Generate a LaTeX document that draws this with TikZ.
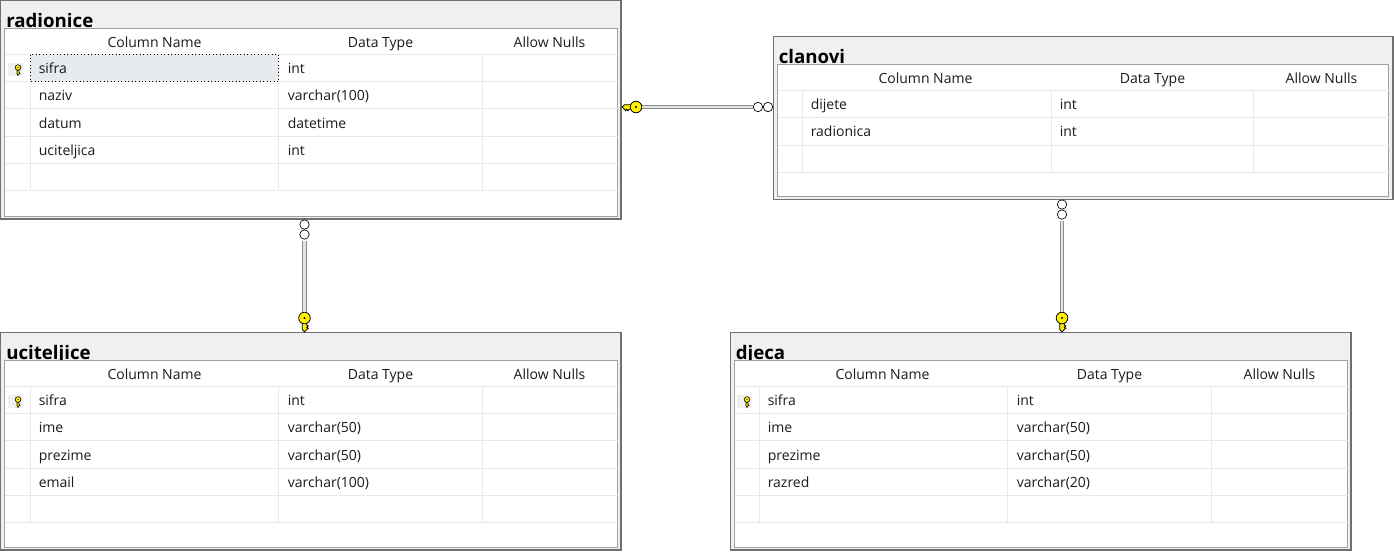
\documentclass[tikz,border=0pt]{standalone}
\usepackage{fontspec}
\setmainfont{Open Sans}
\definecolor{bandgray}{HTML}{F0F0F0}
\definecolor{framegray}{HTML}{707070}
\definecolor{innergray}{HTML}{A0A0A0}
\definecolor{gridgray}{HTML}{E8E8E8}
\definecolor{selblue}{HTML}{E6EBF0}
\definecolor{relgray}{HTML}{8C8C8C}
\definecolor{keyyellow}{HTML}{FFF000}
\definecolor{textdark}{HTML}{1B1B1B}

\begin{document}
\begin{tikzpicture}[x=0.75pt, y=-0.75pt,
  tabframe/.style={draw=framegray, fill=bandgray, line width=1pt},
  tabinner/.style={draw=innergray, fill=white, line width=0.75pt},
  gridline/.style={draw=gridgray, line width=0.75pt},
  tabtitle/.style={anchor=base west, inner sep=0pt, font=\fontsize{14}{16}\selectfont\bfseries},
  colhead/.style={anchor=base, inner sep=0pt, text=textdark, font=\fontsize{10.5}{12}\selectfont},
  cellname/.style={anchor=base west, inner sep=0pt, text=textdark, font=\fontsize{10.5}{12}\selectfont},
  keycell/.style={fill=bandgray},
  selrow/.style={fill=selblue, draw=black, dotted, line width=0.6pt},
  relline/.style={draw=relgray, double=gray!22, double distance=1.6pt, line width=0.8pt},
  keyline/.style={draw=black, fill=keyyellow, line width=0.6pt},
  manyline/.style={draw=black, fill=white, line width=0.5pt},
  bigkey/.pic={
    \draw[keyline] (-2.2,4) -- (-2.2,11.5) -- (0,14) -- (2.2,11.5) -- (3.8,10.3) -- (2.2,9.3)
      -- (3.8,8) -- (2.2,7) -- (2.2,4) -- cycle;
    \draw[keyline] (0,0) circle (5.8);
    \fill (0,0) circle (1.2);
  },
  smallkey/.pic={
    \draw[keyline, line width=0.45pt] (-1,2.5) -- (-1,6.5) -- (0,8) -- (1,6.5) -- (2,5.7)
      -- (1,5) -- (1,2.5) -- cycle;
    \draw[keyline, line width=0.45pt] (0,0) circle (2.8);
    \fill (0,0) circle (0.6);
  },
  manyend/.pic={
    \draw[manyline] (0,0) circle (4.7);
    \draw[manyline] (0,10) circle (4.7);
  }]
\useasboundingbox (0,0) rectangle (1394,551);

\begin{scope}[shift={(0.5,0.5)}]
\draw[tabframe] (0,0) rectangle (620.5,218.5);
\node[tabtitle] (radionice) at (5.5,26.5) {radionice};
\draw[tabinner] (4,28) rectangle (617,215.5);
\foreach \y in {54,81.2,108.4,135.6,162.8,190}
  \draw[gridline] (4,\y) -- (617,\y);
\foreach \x in {30,278,482}
  \draw[gridline] (\x,54) -- (\x,190);
\draw[selrow] (30,54) rectangle (278,81.2);
\fill[keycell] (7,62) rectangle (22,75);
\pic at (17.5,67) {smallkey};
\node[colhead] (radionice-h1) at (154,47) {Column Name};
\node[colhead] (radionice-h2) at (380,47) {Data Type};
\node[colhead] (radionice-h3) at (549,47) {Allow Nulls};
\foreach \n/\t [count=\i] in {sifra/int,naziv/{varchar(100)},datum/datetime,uciteljica/int}
{
  \node[cellname] (radionice-n\i) at (38,45.9+27.2*\i) {\n};
  \node[cellname] (radionice-t\i) at (287,45.9+27.2*\i) {\t};
}
\end{scope}

\begin{scope}[shift={(773.5,36.5)}]
\draw[tabframe] (0,0) rectangle (619.5,163);
\node[tabtitle] (clanovi) at (5,26.5) {clanovi};
\draw[tabinner] (4,28) rectangle (615,159.5);
\foreach \y in {54,81.4,108.8,136.2}
  \draw[gridline] (4,\y) -- (615,\y);
\foreach \x in {29,278,480}
  \draw[gridline] (\x,54) -- (\x,136.2);
\node[colhead] (clanovi-h1) at (152,47) {Column Name};
\node[colhead] (clanovi-h2) at (379,47) {Data Type};
\node[colhead] (clanovi-h3) at (548,47) {Allow Nulls};
\foreach \n/\t [count=\i] in {dijete/int,radionica/int}
{
  \node[cellname] (clanovi-n\i) at (37,45.9+27.2*\i) {\n};
  \node[cellname] (clanovi-t\i) at (286,45.9+27.2*\i) {\t};
}
\end{scope}

\begin{scope}[shift={(0.5,332.5)}]
\draw[tabframe] (0,0) rectangle (620.5,217.5);
\node[tabtitle] (uciteljice) at (5.5,26.5) {uciteljice};
\draw[tabinner] (4,28) rectangle (617,214.5);
\foreach \y in {54,81.2,108.4,135.6,162.8,190}
  \draw[gridline] (4,\y) -- (617,\y);
\foreach \x in {30,278,482}
  \draw[gridline] (\x,54) -- (\x,190);
\fill[keycell] (7,62) rectangle (22,75);
\pic at (17.5,67) {smallkey};
\node[colhead] (uciteljice-h1) at (154,47) {Column Name};
\node[colhead] (uciteljice-h2) at (380,47) {Data Type};
\node[colhead] (uciteljice-h3) at (549,47) {Allow Nulls};
\foreach \n/\t [count=\i] in {sifra/int,ime/{varchar(50)},prezime/{varchar(50)},email/{varchar(100)}}
{
  \node[cellname] (uciteljice-n\i) at (38,45.9+27.2*\i) {\n};
  \node[cellname] (uciteljice-t\i) at (287,45.9+27.2*\i) {\t};
}
\end{scope}

\begin{scope}[shift={(730.5,332.5)}]
\draw[tabframe] (0,0) rectangle (620.5,217.5);
\node[tabtitle] (djeca) at (5,26.5) {djeca};
\draw[tabinner] (4,28) rectangle (617,214.5);
\foreach \y in {54,81.2,108.4,135.6,162.8,190}
  \draw[gridline] (4,\y) -- (617,\y);
\foreach \x in {29,277,481}
  \draw[gridline] (\x,54) -- (\x,190);
\fill[keycell] (6,62) rectangle (21,75);
\pic at (16.5,67) {smallkey};
\node[colhead] (djeca-h1) at (152,47) {Column Name};
\node[colhead] (djeca-h2) at (379,47) {Data Type};
\node[colhead] (djeca-h3) at (549,47) {Allow Nulls};
\foreach \n/\t [count=\i] in {sifra/int,ime/{varchar(50)},prezime/{varchar(50)},razred/{varchar(20)}}
{
  \node[cellname] (djeca-n\i) at (37,45.9+27.2*\i) {\n};
  \node[cellname] (djeca-t\i) at (286,45.9+27.2*\i) {\t};
}
\end{scope}

\pic[rotate=-90] at (636,107) {bigkey};
\pic[rotate=-90] at (768,107) {manyend};
\coordinate (radionice-pk) at (641.8,107);
\coordinate (clanovi-fk) at (753,107);
\draw[relline] (radionice-pk) -- (clanovi-fk);

\pic at (304.5,224.5) {manyend};
\pic at (304.5,318) {bigkey};
\coordinate (radionice-fk) at (304.5,240.5);
\coordinate (uciteljice-pk) at (304.5,312.2);
\draw[relline] (radionice-fk) -- (uciteljice-pk);

\pic at (1062,204.5) {manyend};
\pic at (1062,318) {bigkey};
\coordinate (clanovi-fk2) at (1062,220.5);
\coordinate (djeca-pk) at (1062,312.2);
\draw[relline] (clanovi-fk2) -- (djeca-pk);
\end{tikzpicture}
\end{document}
